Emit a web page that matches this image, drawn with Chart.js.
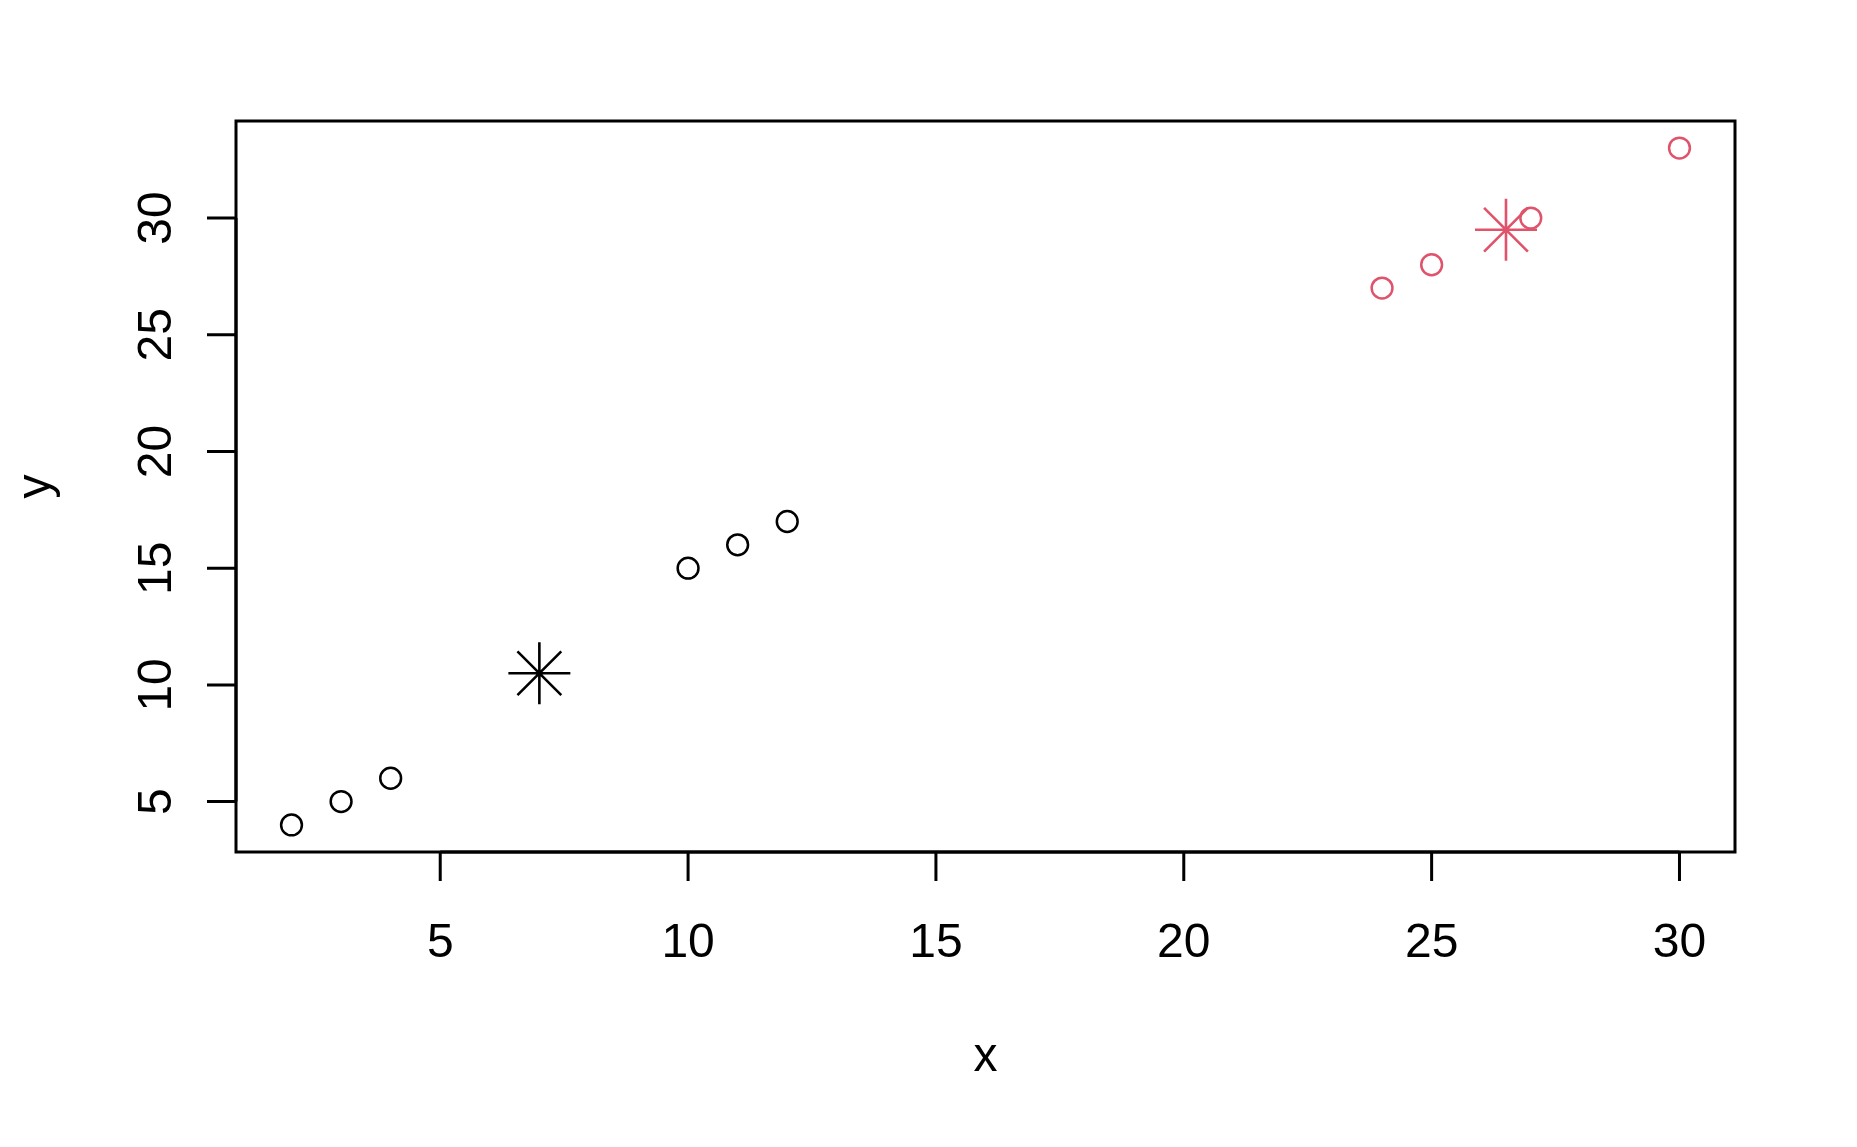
<!DOCTYPE html>
<html>
<head>
<meta charset="utf-8">
<title>Scatter</title>
<script src="https://cdn.jsdelivr.net/npm/chart.js@4.4.0/dist/chart.umd.min.js"></script>
<style>
  html, body { margin: 0; padding: 0; background: #ffffff; }
  #myChart { display: block; }
</style>
</head>
<body>
<canvas id="myChart" width="1857" height="1147"></canvas>
<script>
// punti del gruppo 1 (neri) e del gruppo 2 (rossi)
var group1_x = [2, 3, 4, 10, 11, 12];
var group1_y = [4, 5, 6, 15, 16, 17];
var group2_x = [24, 25, 27, 30];
var group2_y = [27, 28, 30, 33];
// centri dei due gruppi (asterischi)
var center_x = [7, 26.5];
var center_y = [10.5, 29.5];
// etichette degli assi
var x_ticks = [5, 10, 15, 20, 25, 30];
var y_ticks = [5, 10, 15, 20, 25, 30];
var x_title = 'x';
var y_title = 'y';

var black = '#000000';
var red = '#DF536B';
var font = '48px "Liberation Sans", Arial, sans-serif';

function toPoints(xs, ys) {
  var pts = [];
  for (var i = 0; i < xs.length; i++) {
    pts.push({x: xs[i], y: ys[i]});
  }
  return pts;
}

// assi disegnati in stile R
var rAxes = {
  id: 'rAxes',
  afterDraw: function (chart) {
    var ctx = chart.ctx;
    var area = chart.chartArea;
    var sx = chart.scales.x;
    var sy = chart.scales.y;
    var tick = 29;
    ctx.save();
    ctx.strokeStyle = black;
    ctx.fillStyle = black;
    ctx.lineWidth = 3;
    ctx.lineCap = 'butt';
    // box
    ctx.strokeRect(area.left, area.top, area.right - area.left, area.bottom - area.top);

    // asse x
    ctx.beginPath();
    ctx.moveTo(sx.getPixelForValue(x_ticks[0]), area.bottom);
    ctx.lineTo(sx.getPixelForValue(x_ticks[x_ticks.length - 1]), area.bottom);
    for (var i = 0; i < x_ticks.length; i++) {
      var px = sx.getPixelForValue(x_ticks[i]);
      ctx.moveTo(px, area.bottom);
      ctx.lineTo(px, area.bottom + tick);
    }
    ctx.stroke();
    ctx.font = font;
    ctx.textAlign = 'center';
    ctx.textBaseline = 'alphabetic';
    for (var i = 0; i < x_ticks.length; i++) {
      ctx.fillText(String(x_ticks[i]), sx.getPixelForValue(x_ticks[i]), 957);
    }
    ctx.fillText(x_title, (area.left + area.right) / 2, 1071);

    // asse y
    ctx.beginPath();
    ctx.moveTo(area.left, sy.getPixelForValue(y_ticks[0]));
    ctx.lineTo(area.left, sy.getPixelForValue(y_ticks[y_ticks.length - 1]));
    for (var j = 0; j < y_ticks.length; j++) {
      var py = sy.getPixelForValue(y_ticks[j]);
      ctx.moveTo(area.left, py);
      ctx.lineTo(area.left - tick, py);
    }
    ctx.stroke();
    for (var j = 0; j < y_ticks.length; j++) {
      ctx.save();
      ctx.translate(171, sy.getPixelForValue(y_ticks[j]));
      ctx.rotate(-Math.PI / 2);
      ctx.fillText(String(y_ticks[j]), 0, 0);
      ctx.restore();
    }
    ctx.save();
    ctx.translate(50, (area.top + area.bottom) / 2);
    ctx.rotate(-Math.PI / 2);
    ctx.fillText(y_title, 0, 0);
    ctx.restore();

    ctx.restore();
  }
};

var myChart = new Chart(document.getElementById('myChart'), {
  type: 'scatter',
  data: {
    datasets: [
      {
        data: toPoints(group1_x, group1_y),
        pointStyle: 'circle',
        pointRadius: 10.4,
        pointBorderWidth: 2.5,
        borderColor: black,
        backgroundColor: 'rgba(0,0,0,0)'
      },
      {
        data: toPoints(group2_x, group2_y),
        pointStyle: 'circle',
        pointRadius: 10.4,
        pointBorderWidth: 2.5,
        borderColor: red,
        backgroundColor: 'rgba(0,0,0,0)'
      },
      {
        data: toPoints(center_x.slice(0, 1), center_y.slice(0, 1)),
        pointStyle: 'star',
        pointRadius: 31,
        pointBorderWidth: 2.6,
        borderColor: black,
        backgroundColor: black
      },
      {
        data: toPoints(center_x.slice(1), center_y.slice(1)),
        pointStyle: 'star',
        pointRadius: 31,
        pointBorderWidth: 2.6,
        borderColor: red,
        backgroundColor: red
      }
    ]
  },
  options: {
    responsive: false,
    animation: false,
    layout: {
      padding: {left: 236, right: 122, top: 121, bottom: 295}
    },
    plugins: {
      legend: {display: false},
      tooltip: {enabled: false}
    },
    scales: {
      x: {type: 'linear', min: 0.88, max: 31.12, display: false},
      y: {type: 'linear', min: 2.84, max: 34.16, display: false}
    }
  },
  plugins: [rAxes]
});
</script>
</body>
</html>
